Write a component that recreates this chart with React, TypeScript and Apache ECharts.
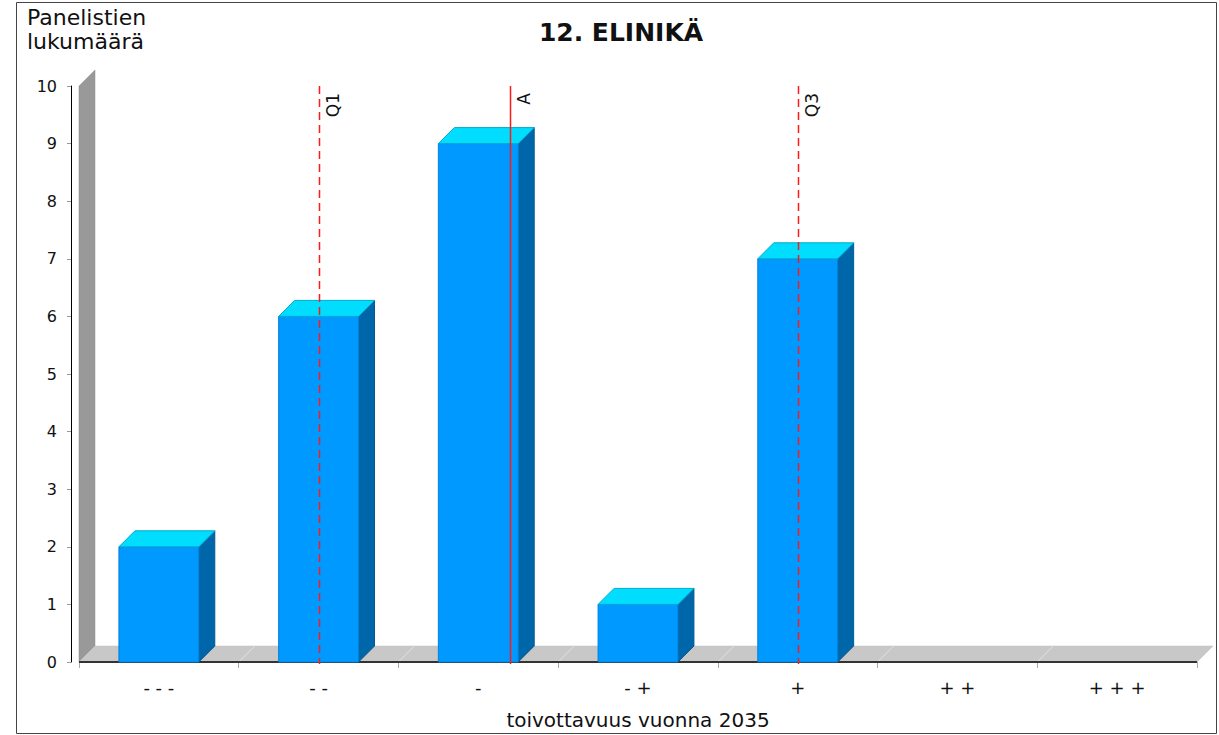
import React, { useEffect, useRef } from "react";
import * as echarts from "echarts";

// ---- data ----
const chartTitle = "12. ELINIKÄ";
const yAxisName = "Panelistien\nlukumäärä";
const xAxisName = "toivottavuus vuonna 2035";
const categories = ["- - -", "- -", "-", "- +", "+", "+ +", "+ + +"];
const counts = [2, 6, 9, 1, 7, 0, 0];
const yMin = 0;
const yMax = 10;
const yInterval = 1;
const markerNames = ["Q1", "A", "Q3"];
const markerPositions = [2, 3.2, 5]; // 1-based category scale
const markerDashed = [true, false, true];

const FONT = '"DejaVu Sans", Verdana, sans-serif';
const D = 16; // 3D depth offset

export default function App() {
  const ref = useRef<HTMLDivElement>(null);

  useEffect(() => {
    document.body.style.margin = "0";
    if (!ref.current) return;
    const chart = echarts.init(ref.current, null, { renderer: "svg" });

    const option: any = {
      animation: false,
      backgroundColor: "#ffffff",
      grid: { left: 79, right: 22, top: 86, bottom: 71, containLabel: false },
      xAxis: [
        {
          type: "category",
          data: categories,
          boundaryGap: true,
          name: xAxisName,
          nameLocation: "middle",
          nameGap: 48,
          nameTextStyle: { fontFamily: FONT, fontSize: 20, color: "#111" },
          axisLine: { show: false },
          axisTick: { show: true, length: 6, lineStyle: { color: "#aaa" } },
          axisLabel: { margin: 16, fontFamily: FONT, fontSize: 18, color: "#111" },
          splitLine: { show: false },
        },
        {
          type: "value",
          min: 0.5,
          max: categories.length + 0.5,
          show: false,
        },
      ],
      yAxis: {
        type: "value",
        min: yMin,
        max: yMax,
        interval: yInterval,
        offset: 8,
        axisLine: { show: true, lineStyle: { color: "#000", width: 1 } },
        axisTick: { show: true, length: 4, lineStyle: { color: "#999" } },
        axisLabel: { margin: 14, fontFamily: FONT, fontSize: 16, color: "#111" },
        splitLine: { show: false },
      },
      graphic: [
        {
          type: "rect",
          shape: { x: 16.5, y: 2.5, width: 1200, height: 731 },
          style: { fill: "none", stroke: "#444", lineWidth: 1 },
          silent: true,
        },
        {
          type: "text",
          x: 621,
          y: 32,
          style: {
            text: chartTitle,
            font: `bold 25px ${FONT}`,
            fill: "#111",
            align: "center",
            verticalAlign: "middle",
          },
        },
        {
          type: "text",
          x: 27,
          y: 5,
          style: {
            text: yAxisName,
            font: `22px ${FONT}`,
            lineHeight: 24,
            fill: "#111",
            align: "left",
            verticalAlign: "top",
          },
        },
      ],
      series: [
        {
          // back wall + floor
          type: "custom",
          z: 1,
          data: [[0, 0]],
          renderItem: (params: any, api: any) => {
            const cs = params.coordSys;
            const x0 = cs.x;
            const x1 = cs.x + cs.width;
            const yT = cs.y;
            const y0 = cs.y + cs.height;
            const bw = api.size([1, 0])[0];
            const children: any[] = [
              {
                type: "polygon",
                shape: { points: [[x0, y0], [x0, yT], [x0 + D, yT - D], [x0 + D, y0 - D]] },
                style: { fill: "#999999", stroke: "#8f8f8f", lineWidth: 0.5 },
              },
              {
                type: "polygon",
                shape: { points: [[x0, y0], [x1, y0], [x1 + D, y0 - D], [x0 + D, y0 - D]] },
                style: { fill: "#c8c8c8", stroke: "#c0c0c0", lineWidth: 0.5 },
              },
            ];
            for (let i = 1; i < categories.length; i++) {
              const xb = x0 + i * bw;
              children.push({
                type: "line",
                shape: { x1: xb, y1: y0, x2: xb + D, y2: y0 - D },
                style: { stroke: "#e2e2e2", lineWidth: 1 },
              });
            }
            children.push({
              type: "line",
              shape: { x1: x0, y1: y0, x2: x1, y2: y0 },
              style: { stroke: "#333", lineWidth: 2 },
            });
            return { type: "group", children };
          },
        },
        {
          // 3D bars
          type: "custom",
          z: 2,
          data: counts.map((v, i) => [i, v]),
          encode: { x: 0, y: 1 },
          renderItem: (params: any, api: any) => {
            const idx = api.value(0);
            const v = api.value(1);
            if (!(v > 0)) return { type: "group", children: [] };
            const top = api.coord([idx, v]);
            const base = api.coord([idx, 0]);
            const w = api.size([1, 0])[0] * 0.5;
            const xl = top[0] - w / 2;
            const xr = top[0] + w / 2;
            const yt = top[1];
            const yb = base[1];
            return {
              type: "group",
              children: [
                {
                  type: "polygon",
                  shape: { points: [[xr, yb], [xr, yt], [xr + D, yt - D], [xr + D, yb - D]] },
                  style: { fill: "#0066aa", stroke: "#005a96", lineWidth: 1 },
                },
                {
                  type: "rect",
                  shape: { x: xl, y: yt, width: w, height: yb - yt },
                  style: { fill: "#0099ff", stroke: "#0080d8", lineWidth: 1 },
                },
                {
                  type: "polygon",
                  shape: { points: [[xl, yt], [xr, yt], [xr + D, yt - D], [xl + D, yt - D]] },
                  style: { fill: "#00ddff", stroke: "#00aacc", lineWidth: 1 },
                },
              ],
            };
          },
        },
        {
          // marker lines Q1 / A / Q3
          type: "custom",
          z: 3,
          xAxisIndex: 1,
          data: markerPositions.map((p, i) => [p, yMax, i]),
          encode: { x: 0, y: 1 },
          renderItem: (params: any, api: any) => {
            const p = api.value(0);
            const i = api.value(2);
            const topPt = api.coord([p, yMax]);
            const botPt = api.coord([p, yMin]);
            const x = Math.round(topPt[0]) + 0.5;
            return {
              type: "group",
              children: [
                {
                  type: "line",
                  shape: { x1: x, y1: topPt[1], x2: x, y2: botPt[1] + 2 },
                  style: {
                    stroke: "#ff1a1a",
                    lineWidth: 1.5,
                    lineDash: markerDashed[i] ? [8, 5] : null,
                  },
                },
                {
                  type: "text",
                  x: x + 5,
                  y: topPt[1] + 7,
                  rotation: Math.PI / 2,
                  style: {
                    text: markerNames[i],
                    font: `17px ${FONT}`,
                    fill: "#111",
                    align: "right",
                    verticalAlign: "top",
                  },
                },
              ],
            };
          },
        },
      ],
    };

    chart.setOption(option);
    return () => chart.dispose();
  }, []);

  return <div ref={ref} style={{ width: 1219, height: 735 }} />;
}
